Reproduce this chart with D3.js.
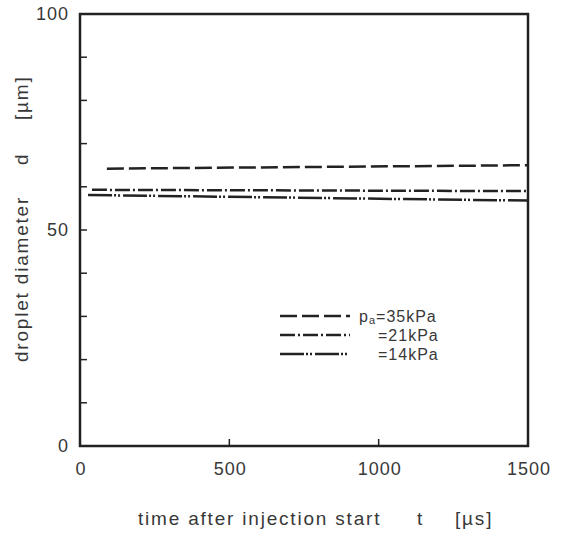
<!DOCTYPE html>
<meta charset="utf-8">
<head>
  <title>Droplet diameter</title>
  <script src="https://cdn.jsdelivr.net/npm/d3@7"></script>
  <style>
    body { margin: 0; background: #fff; }
    text { font-family: "Liberation Sans", Arial, sans-serif; fill: #383838; }
  </style>
</head>
<body>
<script>

// data
var series = ["35kPa", "21kPa", "14kPa"]
var tStart = [90, 40, 27]
var tEnd = [1500, 1500, 1500]
var dStart = [64.2, 59.3, 58.1]
var dEnd = [65.0, 59.0, 56.8]
var dashes = ["17,5", "15,3,2,3", "24,2,2,2,2,3"]
var xTicks = [0, 500, 1000, 1500]
var yLabelTicks = [0, 50, 100]
var yMinorTicks = [10, 20, 30, 40, 60, 70, 80, 90]

var w = 568, h = 534
var pl = 80, pr = 528, pt = 14, pb = 446

var svg = d3.select("body").append("svg").attr("width", w).attr("height", h)

var x = d3.scaleLinear().domain([0, 1500]).range([pl, pr])
var y = d3.scaleLinear().domain([0, 100]).range([pb, pt])

// frame
svg.append("rect")
  .attr("x", pl).attr("y", pt)
  .attr("width", pr - pl).attr("height", pb - pt)
  .style("fill", "none").style("stroke", "#222").style("stroke-width", 2.5)

// inner ticks
svg.append("g").selectAll("line")
  .data(yMinorTicks.concat([50])).enter().append("line")
  .attr("x1", pl).attr("x2", pl + 7)
  .attr("y1", function(d) { return y(d) }).attr("y2", function(d) { return y(d) })
  .style("stroke", "#222").style("stroke-width", 1.5)
svg.append("g").selectAll("line")
  .data([500, 1000]).enter().append("line")
  .attr("x1", function(d) { return x(d) }).attr("x2", function(d) { return x(d) })
  .attr("y1", pb).attr("y2", pb - 7)
  .style("stroke", "#222").style("stroke-width", 1.5)

// tick labels
svg.append("g").selectAll("text")
  .data(yLabelTicks).enter().append("text")
  .attr("x", pl - 11).attr("y", function(d) { return y(d) + 6 })
  .attr("text-anchor", "end")
  .style("font-size", "18px").style("letter-spacing", "1px")
  .text(function(d) { return d })
svg.append("g").selectAll("text")
  .data(xTicks).enter().append("text")
  .attr("x", function(d) { return x(d) + 1 }).attr("y", 475)
  .attr("text-anchor", "middle")
  .style("font-size", "18px").style("letter-spacing", "1px")
  .text(function(d) { return d })

// axis titles
var xt = svg.append("g").style("font-size", "19px").style("letter-spacing", "1.8px")
xt.append("text").attr("x", 138).attr("y", 525).text("time after injection start")
xt.append("text").attr("x", 417).attr("y", 525).text("t")
xt.append("text").attr("x", 455).attr("y", 525).text("[\u00b5s]")

var yt = svg.append("g").attr("transform", "translate(28,0) rotate(-90)")
  .style("font-size", "19px").style("letter-spacing", "1.8px")
yt.append("text").attr("x", -362).attr("y", 0).text("droplet diameter")
yt.append("text").attr("x", -165).attr("y", 0).text("d")
yt.append("text").attr("x", -120).attr("y", 0).text("[\u00b5m]")

// curves
var line = d3.line().x(function(d) { return x(d[0]) }).y(function(d) { return y(d[1]) })
svg.append("g").selectAll("path")
  .data(series).enter().append("path")
  .attr("d", function(d, i) { return line([[tStart[i], dStart[i]], [tEnd[i], dEnd[i]]]) })
  .style("fill", "none").style("stroke", "#222").style("stroke-width", 2.5)
  .style("stroke-dasharray", function(d, i) { return dashes[i] })

// legend
var lg = svg.append("g")
lg.selectAll("line")
  .data(series).enter().append("line")
  .attr("x1", 280).attr("x2", 350)
  .attr("y1", function(d, i) { return 316 + i * 19 }).attr("y2", function(d, i) { return 316 + i * 19 })
  .style("stroke", "#222").style("stroke-width", 2.5)
  .style("stroke-dasharray", function(d, i) { return dashes[i] })
var lt = lg.append("text").attr("x", 359).attr("y", 322)
  .style("font-size", "16px").style("letter-spacing", "1px")
lt.append("tspan").text("p")
lt.append("tspan").attr("dy", 2).style("font-size", "11px").text("a")
lt.append("tspan").attr("dy", -2).text("=" + series[0])
lg.selectAll(".lbl")
  .data(series.slice(1)).enter().append("text")
  .attr("class", "lbl")
  .attr("x", 378).attr("y", function(d, i) { return 341 + i * 19 })
  .style("font-size", "16px").style("letter-spacing", "1px")
  .text(function(d) { return "=" + d })

</script>
</body>
</html>
